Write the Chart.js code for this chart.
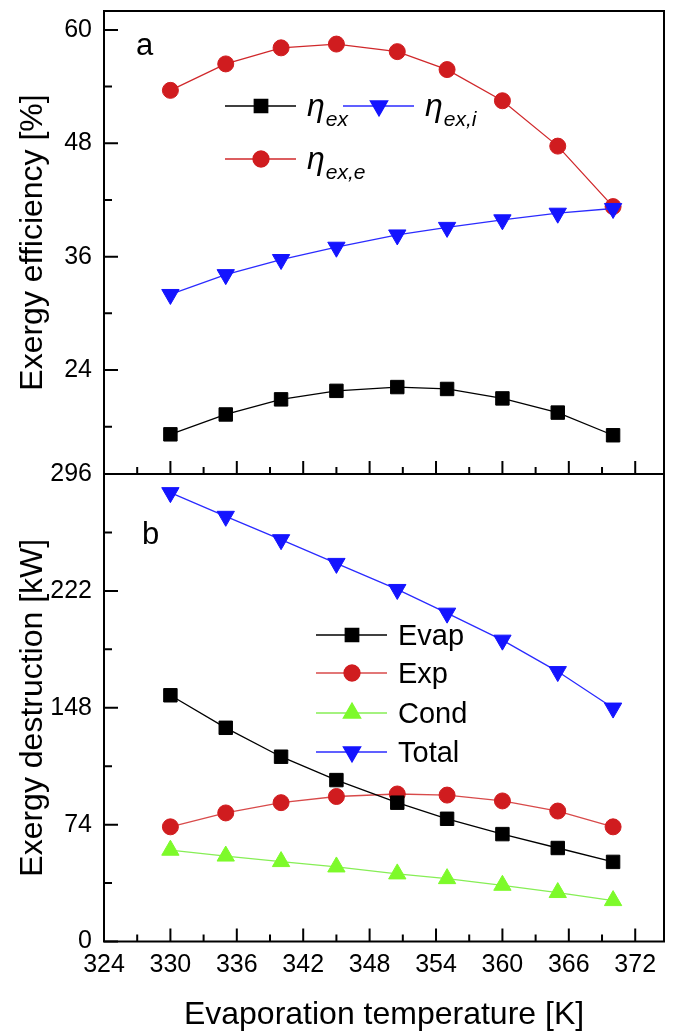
<!DOCTYPE html>
<html>
<head>
<meta charset="utf-8">
<script src="https://cdn.jsdelivr.net/npm/chart.js@4/dist/chart.umd.min.js"></script>
<style>
  body { margin: 0; background: #fff; }
  #wrap { position: relative; width: 675px; height: 1031px; }
  canvas { position: absolute; left: 0; }
</style>
</head>
<body>
<div id="wrap">
  <canvas id="effChart" width="675" height="490" style="top:0"></canvas>
  <canvas id="destChart" width="675" height="576" style="top:455px"></canvas>
</div>
<script>
// evaporation temperature [K]
var temps = [330, 335, 340, 345, 350.5, 355, 360, 365, 370];

// panel a: exergy efficiency [%]
var etaEx  = [17.2, 19.3, 20.9, 21.8, 22.2, 22.0, 21.0, 19.5, 17.1];
var etaExI = [32.0, 34.1, 35.7, 37.0, 38.3, 39.1, 39.9, 40.6, 41.1];
var etaExE = [53.6, 56.4, 58.1, 58.5, 57.7, 55.8, 52.5, 47.7, 41.3];

// panel b: exergy destruction [kW]
var evap  = [155.9, 135.3, 117.0, 102.2, 87.9, 77.7, 68.0, 59.2, 50.4];
var expn  = [72.6, 81.4, 87.9, 91.8, 93.4, 92.7, 89.0, 82.6, 72.6];
var cond  = [57.8, 54.1, 50.6, 47.2, 42.8, 39.8, 35.6, 31.0, 25.9];
var total = [284.2, 269.2, 254.4, 239.4, 222.9, 207.9, 190.8, 170.9, 147.8];

// tick labels
var xTicks = [324, 330, 336, 342, 348, 354, 360, 366, 372];
var effTicks = [24, 36, 48, 60];
var destTicks = [0, 74, 148, 222, 296];

var FONT = "'Liberation Sans', Arial, Helvetica, sans-serif";

function pts(ys) {
  return ys.map(function (y, i) { return { x: temps[i], y: y }; });
}

function minors(list, lo, hi) {
  var out = [];
  var half = (list[1] - list[0]) / 2;
  for (var i = 0; i < list.length; i++) {
    if (list[i] - half > lo) out.push(list[i] - half);
  }
  var last = list[list.length - 1] + half;
  if (last < hi) out.push(last);
  return out;
}

function series(label, data, color, lineColor, style, radius, rot) {
  return {
    label: label,
    data: pts(data),
    borderColor: lineColor,
    backgroundColor: color,
    pointBackgroundColor: color,
    pointBorderColor: color,
    borderWidth: 1.3,
    pointStyle: style,
    pointRadius: radius,
    pointHoverRadius: radius,
    pointRotation: rot || 0,
    pointBorderWidth: 1,
    tension: 0
  };
}

// frame + inward ticks
var frameTicks = {
  id: 'frameTicks',
  afterDraw: function (chart, args, o) {
    var ctx = chart.ctx, a = chart.chartArea;
    var xs = chart.scales.x, ys = chart.scales.y;
    ctx.save();
    ctx.strokeStyle = '#000';
    ctx.lineWidth = 2;
    ctx.beginPath();
    o.yMajor.forEach(function (v) {
      var p = ys.getPixelForValue(v);
      ctx.moveTo(a.left, p); ctx.lineTo(a.left + 14, p);
    });
    minors(o.yMajor, ys.min, ys.max).forEach(function (v) {
      var p = ys.getPixelForValue(v);
      ctx.moveTo(a.left, p); ctx.lineTo(a.left + 8, p);
    });
    xTicks.forEach(function (v) {
      var p = xs.getPixelForValue(v);
      ctx.moveTo(p, a.bottom); ctx.lineTo(p, a.bottom - 13);
    });
    minors(xTicks, xs.min, xs.max).forEach(function (v) {
      var p = xs.getPixelForValue(v);
      ctx.moveTo(p, a.bottom); ctx.lineTo(p, a.bottom - 7);
    });
    ctx.stroke();
    ctx.strokeRect(a.left, a.top, a.right - a.left, a.bottom - a.top);

    // panel letter
    ctx.fillStyle = '#000';
    ctx.font = '31px ' + FONT;
    ctx.textBaseline = 'alphabetic';
    ctx.fillText(o.letter.text, o.letter.x, o.letter.y);

    // legend
    o.legend.forEach(function (it) {
      var ds = chart.data.datasets[it.ds];
      ctx.strokeStyle = ds.borderColor;
      ctx.lineWidth = ds.borderWidth;
      ctx.beginPath();
      ctx.moveTo(it.x, it.y); ctx.lineTo(it.x + 71, it.y);
      ctx.stroke();
      ctx.fillStyle = ds.pointBackgroundColor;
      ctx.strokeStyle = ds.pointBorderColor;
      Chart.helpers.drawPoint(ctx, {
        pointStyle: ds.pointStyle, rotation: ds.pointRotation,
        radius: ds.pointRadius, borderWidth: 1
      }, it.x + 36, it.y);
      ctx.fillStyle = '#000';
      var tx = it.x + 82;
      if (it.sub) {
        ctx.font = 'italic 32px ' + FONT;
        ctx.fillText('\u03b7', tx, it.y + 10);
        var w = ctx.measureText('\u03b7').width;
        ctx.font = 'italic 21px ' + FONT;
        ctx.fillText(it.sub, tx + w + 1, it.y + 20);
      } else {
        ctx.font = '29px ' + FONT;
        ctx.fillText(ds.label, tx, it.y + 10);
      }
    });
    ctx.restore();
  }
};

function noPad(s) {
  s.paddingTop = 0; s.paddingBottom = 0; s.paddingLeft = 0; s.paddingRight = 0;
}

function yAxis(min, max, ticks, title) {
  return {
    type: 'linear', min: min, max: max,
    afterFit: function (s) { s.width = 104; noPad(s); },
    afterBuildTicks: function (s) { s.ticks = ticks.map(function (v) { return { value: v }; }); },
    grid: { display: false, drawTicks: false },
    border: { display: false },
    ticks: { padding: 12, color: '#000', font: { family: FONT, size: 25 } },
    title: { display: true, text: title, color: '#000', padding: { top: 14, bottom: 0 },
             font: { family: FONT, size: 32, lineHeight: 1.2 } }
  };
}

function xAxis(show) {
  return {
    type: 'linear', min: 324, max: 374.6,
    display: show,
    afterFit: function (s) { if (show) s.height = 89.5; noPad(s); },
    afterBuildTicks: function (s) { s.ticks = xTicks.map(function (v) { return { value: v }; }); },
    grid: { display: false, drawTicks: false },
    border: { display: false },
    ticks: { padding: 9, color: '#000', maxRotation: 0, font: { family: FONT, size: 25 } },
    title: { display: true, text: 'Evaporation temperature [K]', color: '#000',
             padding: { top: 0, bottom: 0 }, font: { family: FONT, size: 32, lineHeight: 1 } }
  };
}

var base = {
  responsive: false,
  animation: false,
  events: [],
  plugins: { legend: { display: false }, tooltip: { enabled: false } }
};

new Chart(document.getElementById('effChart').getContext('2d'), {
  type: 'line',
  data: {
    datasets: [
      series('\u03b7ex', etaEx, '#000000', '#000000', 'rect', 9.5),
      series('\u03b7ex,i', etaExI, '#1414ff', '#2b2bff', 'triangle', 10, 180),
      series('\u03b7ex,e', etaExE, '#d01c1f', '#d0282b', 'circle', 8)
    ]
  },
  options: Object.assign({}, base, {
    layout: { padding: { top: 7, bottom: 16, left: 0, right: 8 } },
    scales: { x: xAxis(false), y: yAxis(13, 62, effTicks, 'Exergy efficiency [%]') },
    plugins: Object.assign({}, base.plugins, {
      frameTicks: {
        yMajor: effTicks,
        letter: { text: 'a', x: 136, y: 55 },
        legend: [
          { ds: 0, x: 225, y: 106, sub: 'ex' },
          { ds: 1, x: 343, y: 106, sub: 'ex,i' },
          { ds: 2, x: 225, y: 159, sub: 'ex,e' }
        ]
      }
    })
  }),
  plugins: [frameTicks]
});

new Chart(document.getElementById('destChart').getContext('2d'), {
  type: 'line',
  data: {
    datasets: [
      series('Evap', evap, '#000000', '#000000', 'rect', 9.5),
      series('Exp', expn, '#d01c1f', '#d84a4a', 'circle', 8),
      series('Cond', cond, '#7dfa2a', '#86ee55', 'triangle', 10),
      series('Total', total, '#1414ff', '#2b2bff', 'triangle', 10, 180)
    ]
  },
  options: Object.assign({}, base, {
    layout: { padding: { top: 19, bottom: 0, left: 0, right: 8 } },
    scales: { x: xAxis(true), y: yAxis(0, 296, destTicks, 'Exergy destruction [kW]') },
    plugins: Object.assign({}, base.plugins, {
      frameTicks: {
        yMajor: destTicks,
        letter: { text: 'b', x: 142, y: 89 },
        legend: [
          { ds: 0, x: 316, y: 180 },
          { ds: 1, x: 316, y: 218 },
          { ds: 2, x: 316, y: 258 },
          { ds: 3, x: 316, y: 297 }
        ]
      }
    })
  }),
  plugins: [frameTicks]
});
</script>
</body>
</html>
